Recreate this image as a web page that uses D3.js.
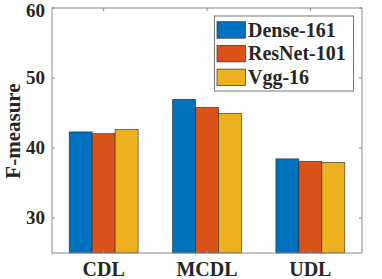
<!DOCTYPE html>
<html>
<head>
<meta charset="utf-8">
<script src="https://cdn.jsdelivr.net/npm/d3@7"></script>
<style>
  body { margin: 0; background: #fff; }
  svg text { font-family: "Liberation Serif", "Times New Roman", serif; font-weight: bold; fill: #262626; }
</style>
</head>
<body>
<div id="chart"></div>
<script>
// data
var categories = ["CDL", "MCDL", "UDL"];
var seriesNames = ["Dense-161", "ResNet-101", "Vgg-16"];
var dense161 = [42.3, 46.95, 38.45];
var resnet101 = [42.05, 45.8, 38.1];
var vgg16 = [42.65, 44.95, 37.95];
var yTicks = [30, 40, 50, 60];
var colors = ["#0072BD", "#D95319", "#EDB120"];

var W = 382, H = 279;
var margin = {top: 8, right: 20, bottom: 26, left: 52};
var plotW = 362 - margin.left, plotH = 253 - margin.top;

var svg = d3.select("#chart").append("svg").attr("width", W).attr("height", H);
var g = svg.append("g").attr("transform", "translate(" + margin.left + "," + margin.top + ")");

var series = [dense161, resnet101, vgg16];

// MATLAB style: categories at 1..n, axis from 0.5 to n+0.5
var x = d3.scaleLinear().domain([0.5, categories.length + 0.5]).range([0, plotW]);
var y = d3.scaleLinear().domain([25, 60]).range([plotH, 0]);
var groupW = 2 / 3; // fraction of one category slot
var barW = groupW / series.length;

// bars
series.forEach(function (vals, s) {
    g.selectAll(".bar" + s)
        .data(vals)
        .enter().append("rect")
        .attr("x", function (d, i) { return x(i + 1 - groupW / 2 + s * barW); })
        .attr("width", x(barW) - x(0))
        .attr("y", function (d) { return y(d); })
        .attr("height", function (d) { return plotH - y(d); })
        .attr("fill", colors[s])
        .attr("stroke", "#222")
        .attr("stroke-opacity", 0.8)
        .attr("stroke-width", 0.7);
});

// axes box
var axisColor = "#8a8a8a";
g.append("rect").attr("x", 0).attr("y", 0).attr("width", plotW).attr("height", plotH)
    .attr("fill", "none").attr("stroke", axisColor).attr("stroke-width", 1);

var tickLen = 3;
// y ticks (left and right, inward)
yTicks.forEach(function (t) {
    g.append("line").attr("x1", 0).attr("x2", tickLen).attr("y1", y(t)).attr("y2", y(t)).attr("stroke", axisColor);
    g.append("line").attr("x1", plotW).attr("x2", plotW - tickLen).attr("y1", y(t)).attr("y2", y(t)).attr("stroke", axisColor);
    g.append("text").attr("x", -7).attr("y", y(t)).attr("dy", t === 60 ? "0.45em" : "0.34em")
        .attr("text-anchor", "end").style("font-size", "19px").text(t);
});
// x ticks (bottom and top, inward)
categories.forEach(function (c, i) {
    var xp = x(i + 1);
    g.append("line").attr("x1", xp).attr("x2", xp).attr("y1", 0).attr("y2", tickLen).attr("stroke", axisColor);
    g.append("line").attr("x1", xp).attr("x2", xp).attr("y1", plotH).attr("y2", plotH - tickLen).attr("stroke", axisColor);
    g.append("text").attr("x", xp).attr("y", plotH + 23)
        .attr("text-anchor", "middle").style("font-size", "20px").text(c);
});

// y label
svg.append("text")
    .attr("transform", "translate(19.5,131) rotate(-90)")
    .attr("text-anchor", "middle").style("font-size", "21px").text("F-measure");

// legend
var lg = svg.append("g");
lg.append("rect").attr("x", 214.5).attr("y", 16).attr("width", 139).attr("height", 75)
    .attr("fill", "#fff").attr("stroke", "#777").attr("stroke-width", 1);
seriesNames.forEach(function (n, s) {
    var yy = 21.7 + s * 23.7;
    lg.append("rect").attr("x", 217).attr("y", yy).attr("width", 28.5).attr("height", 16.5)
        .attr("fill", colors[s]).attr("stroke", "#333").attr("stroke-width", 0.7);
    lg.append("text").attr("x", 248).attr("y", yy + 15).style("font-size", "20px").text(n);
});
</script>
</body>
</html>
